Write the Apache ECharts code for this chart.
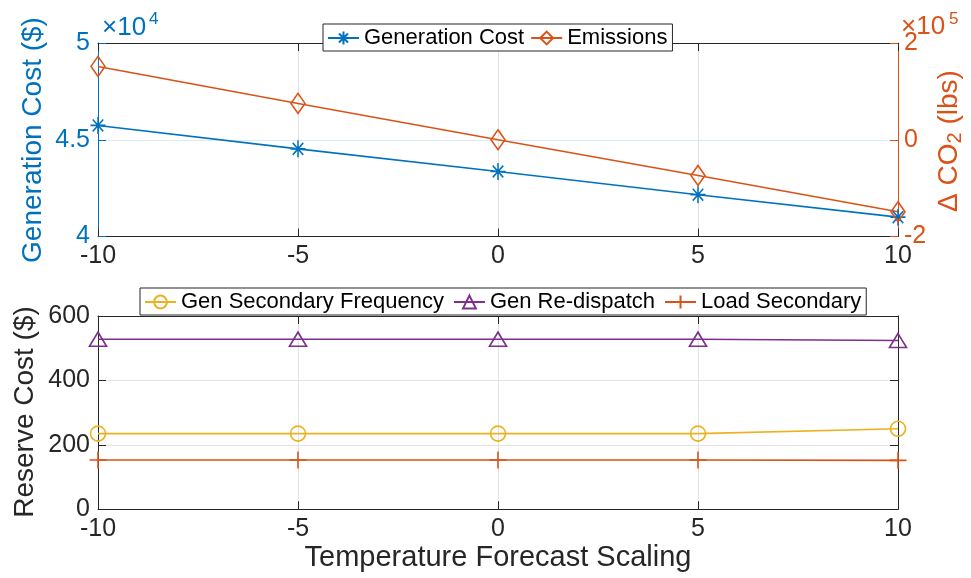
<!DOCTYPE html>
<html><head><meta charset="utf-8">
<script src="https://cdn.jsdelivr.net/npm/echarts@6/dist/echarts.min.js"></script>
<style>html,body{margin:0;padding:0;background:#fff}#c{width:971px;height:578px}</style>
</head><body><div id="c"></div>
<script>
// ---- data ----
const scaling = [-10, -5, 0, 5, 10];
const genCost = [45740, 44530, 43360, 42160, 41000];
const emissions = [151600, 75100, 0, -73800, -148900];
const genSecFreq = [235, 235, 235, 235, 250];
const genRedispatch = [528, 528, 528, 528, 524];
const loadSecondary = [153, 153, 153, 153, 152];
const xTickLabels = ['-10', '-5', '0', '5', '10'];
const costTickLabels = ['4', '4.5', '5'];
const co2TickLabels = ['-2', '0', '2'];
const reserveTickLabels = ['0', '200', '400', '600'];

const FONT = '"Liberation Sans", Arial, Helvetica, sans-serif';
const BLUE = '#0072BD', ORANGE = '#D95319', YELLOW = '#EDB120', PURPLE = '#7E2F8E';
const DARK = '#262626';
const GRID_GRAY = '#e3e3e3', GRID_BLUE = '#dbeaf5';

const pairs = (ys) => scaling.map((x, i) => [x, ys[i]]);
const ASTERISK = 'path://M0 10 L20 10 M10 0 L10 20 M3 3 L17 17 M3 17 L17 3';
const PLUS = 'path://M0 10 L20 10 M10 0 L10 20';

const chart = echarts.init(document.getElementById('c'), null, {renderer: 'canvas'});

function xAxisBottom(gridIndex, showSplit) {
  return {
    type: 'value', gridIndex, position: 'bottom', min: -10, max: 10, interval: 5,
    axisLine: {show: true, onZero: false, lineStyle: {color: DARK, width: 1}},
    axisTick: {show: true, inside: true, length: 8, lineStyle: {color: DARK}},
    axisLabel: {show: true, margin: 7, color: DARK, fontSize: 25, fontFamily: FONT,
      formatter: (v) => xTickLabels[scaling.indexOf(v)] ?? ''},
    splitLine: {show: showSplit, lineStyle: {color: GRID_GRAY, width: 1}}
  };
}
function xAxisTop(gridIndex) {
  return {
    type: 'value', gridIndex, position: 'top', min: -10, max: 10, interval: 5,
    axisLine: {show: true, onZero: false, lineStyle: {color: DARK, width: 1}},
    axisTick: {show: true, inside: true, length: 8, lineStyle: {color: DARK}},
    axisLabel: {show: false}, splitLine: {show: false}
  };
}

const option = {
  animation: false,
  backgroundColor: '#fff',
  grid: [
    {left: 98, top: 43, width: 800, height: 193.5, containLabel: false},
    {left: 98, top: 316, width: 800, height: 193.3, containLabel: false}
  ],
  xAxis: [
    xAxisBottom(0, true), xAxisTop(0),
    xAxisBottom(1, true), xAxisTop(1)
  ],
  yAxis: [
    { // top left: generation cost
      type: 'value', gridIndex: 0, position: 'left', min: 40000, max: 50000, interval: 5000,
      axisLine: {show: true, onZero: false, lineStyle: {color: BLUE, width: 1}},
      axisTick: {show: true, inside: true, length: 8, lineStyle: {color: BLUE}},
      axisLabel: {margin: 8, color: BLUE, fontSize: 25, fontFamily: FONT,
        formatter: (v) => costTickLabels[Math.round((v - 40000) / 5000)] ?? ''},
      splitLine: {show: true, lineStyle: {color: GRID_BLUE, width: 1}}
    },
    { // top right: delta CO2
      type: 'value', gridIndex: 0, position: 'right', min: -200000, max: 200000, interval: 200000,
      axisLine: {show: true, onZero: false, lineStyle: {color: ORANGE, width: 1}},
      axisTick: {show: true, inside: true, length: 8, lineStyle: {color: ORANGE}},
      axisLabel: {margin: 6, color: ORANGE, fontSize: 25, fontFamily: FONT,
        formatter: (v) => co2TickLabels[Math.round((v + 200000) / 200000)] ?? ''},
      splitLine: {show: false}
    },
    { // bottom left: reserve cost
      type: 'value', gridIndex: 1, position: 'left', min: 0, max: 600, interval: 200,
      axisLine: {show: true, onZero: false, lineStyle: {color: DARK, width: 1}},
      axisTick: {show: true, inside: true, length: 8, lineStyle: {color: DARK}},
      axisLabel: {margin: 8, color: DARK, fontSize: 25, fontFamily: FONT,
        formatter: (v) => reserveTickLabels[Math.round(v / 200)] ?? ''},
      splitLine: {show: true, lineStyle: {color: GRID_GRAY, width: 1}}
    },
    { // bottom right: box
      type: 'value', gridIndex: 1, position: 'right', min: 0, max: 600, interval: 200,
      axisLine: {show: true, onZero: false, lineStyle: {color: DARK, width: 1}},
      axisTick: {show: true, inside: true, length: 8, lineStyle: {color: DARK}},
      axisLabel: {show: false}, splitLine: {show: false}
    }
  ],
  legend: [
    {
      data: ['Generation Cost', 'Emissions'],
      left: 323, top: 24, orient: 'horizontal',
      itemWidth: 31, itemHeight: 16, itemGap: 6,
      padding: [3, 5, 2, 4],
      backgroundColor: '#fff', borderColor: DARK, borderWidth: 1, borderRadius: 0,
      textStyle: {fontSize: 22, color: '#000', fontFamily: FONT},
      selectedMode: false, z: 10
    },
    {
      data: ['Gen Secondary Frequency', 'Gen Re-dispatch', 'Load Secondary'],
      left: 140, top: 288, orient: 'horizontal',
      itemWidth: 31, itemHeight: 16, itemGap: 9,
      padding: [3, 5, 2, 4],
      backgroundColor: '#fff', borderColor: DARK, borderWidth: 1, borderRadius: 0,
      textStyle: {fontSize: 22, color: '#000', fontFamily: FONT},
      selectedMode: false, z: 10
    }
  ],
  series: [
    {
      name: 'Generation Cost', type: 'line', xAxisIndex: 0, yAxisIndex: 0,
      data: pairs(genCost), color: BLUE,
      symbol: ASTERISK, symbolSize: [15, 17], showAllSymbol: true,
      lineStyle: {color: BLUE, width: 1.6},
      itemStyle: {color: BLUE, borderColor: BLUE, borderWidth: 1.6},
      emphasis: {disabled: true}, clip: false, z: 3
    },
    {
      name: 'Emissions', type: 'line', xAxisIndex: 0, yAxisIndex: 1,
      data: pairs(emissions), color: ORANGE,
      symbol: 'diamond', symbolSize: [14, 20],
      lineStyle: {color: ORANGE, width: 1.6},
      itemStyle: {color: 'rgba(255,255,255,0)', borderColor: ORANGE, borderWidth: 1.6},
      emphasis: {disabled: true}, clip: false, z: 3
    },
    {
      name: 'Gen Secondary Frequency', type: 'line', xAxisIndex: 2, yAxisIndex: 2,
      data: pairs(genSecFreq), color: YELLOW,
      symbol: 'circle', symbolSize: 15,
      lineStyle: {color: YELLOW, width: 1.6},
      itemStyle: {color: 'rgba(255,255,255,0)', borderColor: YELLOW, borderWidth: 1.6},
      emphasis: {disabled: true}, clip: false, z: 3
    },
    {
      name: 'Gen Re-dispatch', type: 'line', xAxisIndex: 2, yAxisIndex: 2,
      data: pairs(genRedispatch), color: PURPLE,
      symbol: 'triangle', symbolSize: [17, 14],
      lineStyle: {color: PURPLE, width: 1.6},
      itemStyle: {color: 'rgba(255,255,255,0)', borderColor: PURPLE, borderWidth: 1.6},
      emphasis: {disabled: true}, clip: false, z: 3
    },
    {
      name: 'Load Secondary', type: 'line', xAxisIndex: 2, yAxisIndex: 2,
      data: pairs(loadSecondary), color: ORANGE,
      symbol: PLUS, symbolSize: [17, 17],
      lineStyle: {color: ORANGE, width: 1.6},
      itemStyle: {color: ORANGE, borderColor: ORANGE, borderWidth: 1.6},
      emphasis: {disabled: true}, clip: false, z: 3
    }
  ],
  graphic: [
    {type: 'text', x: 33, y: 140, rotation: Math.PI / 2, z: 20,
      style: {text: 'Generation Cost ($)', fill: BLUE, fontSize: 28, fontFamily: FONT,
        align: 'center', verticalAlign: 'middle'}},
    {type: 'text', x: 102, y: 28, z: 20,
      style: {text: '×10', fill: BLUE, fontSize: 26, fontFamily: FONT, align: 'left', verticalAlign: 'middle'}},
    {type: 'text', x: 149, y: 19, z: 20,
      style: {text: '4', fill: BLUE, fontSize: 17, fontFamily: FONT, align: 'left', verticalAlign: 'middle'}},
    {type: 'text', x: 901, y: 27, z: 20,
      style: {text: '×10', fill: ORANGE, fontSize: 26, fontFamily: FONT, align: 'left', verticalAlign: 'middle'}},
    {type: 'text', x: 949, y: 19, z: 20,
      style: {text: '5', fill: ORANGE, fontSize: 17, fontFamily: FONT, align: 'left', verticalAlign: 'middle'}},
    {type: 'text', x: 950, y: 141, rotation: Math.PI / 2, z: 20,
      style: {text: '{m|Δ CO}{s|2}{m| (lbs)}', fill: ORANGE, fontFamily: FONT,
        align: 'center', verticalAlign: 'middle',
        rich: {
          m: {fontSize: 28, fill: ORANGE, fontFamily: FONT, lineHeight: 30, verticalAlign: 'top'},
          s: {fontSize: 20, fill: ORANGE, fontFamily: FONT, lineHeight: 20, verticalAlign: 'bottom', padding: [14, 0, 0, 0]}
        }}},
    {type: 'text', x: 25, y: 412, rotation: Math.PI / 2, z: 20,
      style: {text: 'Reserve Cost ($)', fill: DARK, fontSize: 28, fontFamily: FONT,
        align: 'center', verticalAlign: 'middle'}},
    {type: 'text', x: 498, y: 558, z: 20,
      style: {text: 'Temperature Forecast Scaling', fill: DARK, fontSize: 29, fontFamily: FONT,
        align: 'center', verticalAlign: 'middle'}}
  ]
};
chart.setOption(option);
</script>
</body></html>
